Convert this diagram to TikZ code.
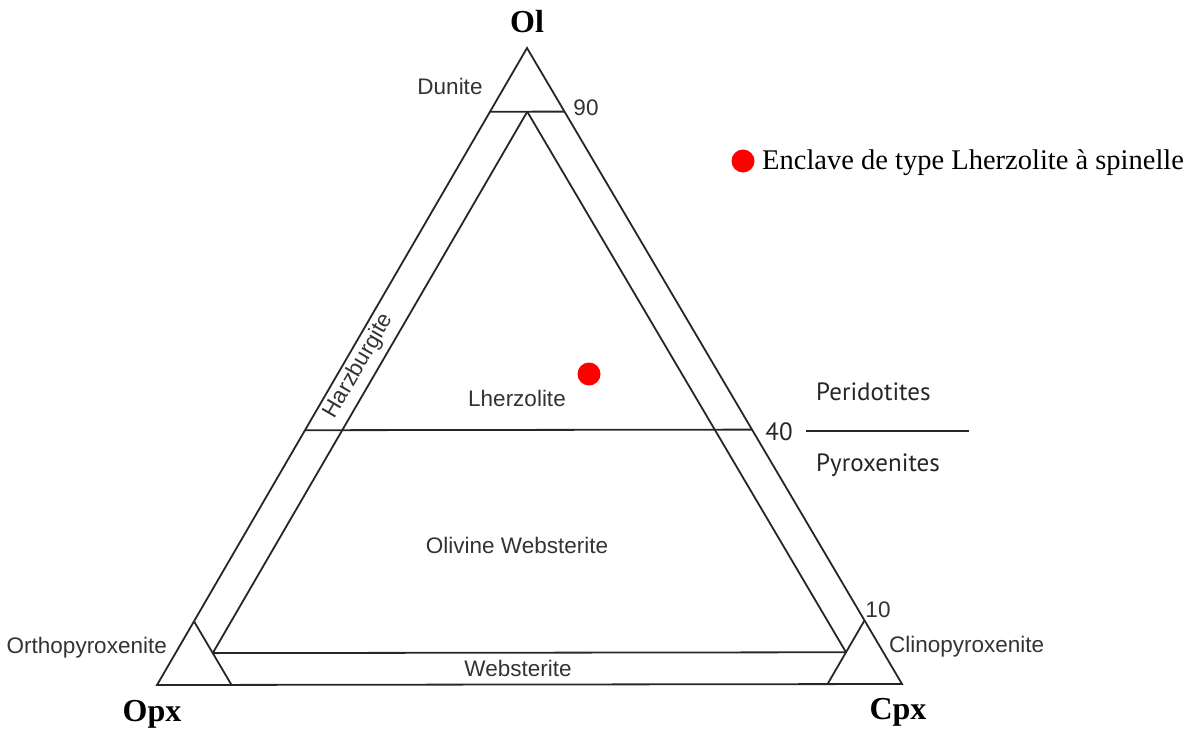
\documentclass[tikz,border=0pt]{standalone}
\usepackage{fontspec}
\setmainfont{Liberation Serif}
\newfontfamily\helv{Liberation Sans}
\newfontfamily\myr{PT Sans}
\begin{document}
\begin{tikzpicture}[x=1pt,y=-1pt,
  edge/.style={draw=black!85,line width=1.8pt},
  hlab/.style={inner sep=0pt,text=black!80,font=\helv\fontsize{22.5}{25}\selectfont},
  mlab/.style={inner sep=0pt,text=black!85,font=\myr\fontsize{25}{28}\selectfont},
  apex/.style={inner sep=0pt,font=\bfseries\fontsize{32}{36}\selectfont},
  dot/.style={circle,fill=red,inner sep=0pt,minimum size=23pt}]
\useasboundingbox (0,0) rectangle (1196,731);
% vertices
\coordinate (A) at (527,48);
\coordinate (B) at (157,685);
\coordinate (C) at (902,684);
% Ol = 90
\coordinate (n1) at (barycentric cs:A=0.9,B=0.1,C=0);
\coordinate (n2) at (barycentric cs:A=0.9,B=0,C=0.1);
% Ol = 40
\coordinate (f1) at (barycentric cs:A=0.4,B=0.6,C=0);
\coordinate (f2) at (barycentric cs:A=0.4,B=0,C=0.6);
% inner triangle
\coordinate (iA) at (barycentric cs:A=0.9,B=0.05,C=0.05);
\coordinate (iB) at (barycentric cs:A=0.05,B=0.9,C=0.05);
\coordinate (iC) at (barycentric cs:A=0.05,B=0.05,C=0.9);
% corner lines
\coordinate (o1) at (barycentric cs:A=0.1,B=0.9,C=0);
\coordinate (o2) at (barycentric cs:A=0,B=0.9,C=0.1);
\coordinate (c1) at (barycentric cs:A=0.1,B=0,C=0.9);
\coordinate (c2) at (barycentric cs:A=0,B=0.1,C=0.9);
% separator
\coordinate (s1) at (806,431);
\coordinate (s2) at (969,431);

\draw[edge,line join=miter] (A) -- (B) -- (C) -- cycle;
\draw[edge] (n1) -- (n2);
\draw[edge] (f1) -- (f2);
\draw[edge] (iA) -- (iB);
\draw[edge] (iA) -- (iC);
\draw[edge] (iB) -- (iC);
\draw[edge] (o1) -- (o2);
\draw[edge] (c1) -- (c2);
\draw[edge,line width=1.5pt] (s1) -- (s2);

% apex labels
\node[apex] (lOl) at (527,22) {Ol};
\node[apex] (lOpx) at (152,714) {Opx};
\node[apex] (lCpx) at (898,712) {Cpx};

% field labels
\node[hlab] (dun) at (450,86) {Dunite};
\node[hlab] (l90) at (586,108) {90};
\node[hlab] (lhz) at (517,398) {Lherzolite};
\node[hlab] (olw) at (517,545) {Olivine Websterite};
\node[hlab] (web) at (518,668) {Websterite};
\node[hlab,anchor=east] (opxite) at (167,648) {Orthopyroxenite};
\node[hlab,anchor=west] (cpxite) at (889,647) {Clinopyroxenite};
\node[hlab] (l10) at (878,610) {10};
\node[hlab,rotate=59.8] (hzb) at (359,366) {Harzburgite};
\node[mlab] (l40) at (779,432) {40};
\node[mlab,anchor=west] (per) at (816,392) {Peridotites};
\node[mlab,anchor=west] (pyr) at (816,465) {Pyroxenites};

% samples and legend
\node[dot] (sample) at (589,374) {};
\node[dot] (legdot) at (743,161) {};
\node[anchor=west,inner sep=0pt,font=\fontsize{28.5}{31}\selectfont] (legtxt) at (762,163) {Enclave de type Lherzolite à spinelle};
\end{tikzpicture}
\end{document}
